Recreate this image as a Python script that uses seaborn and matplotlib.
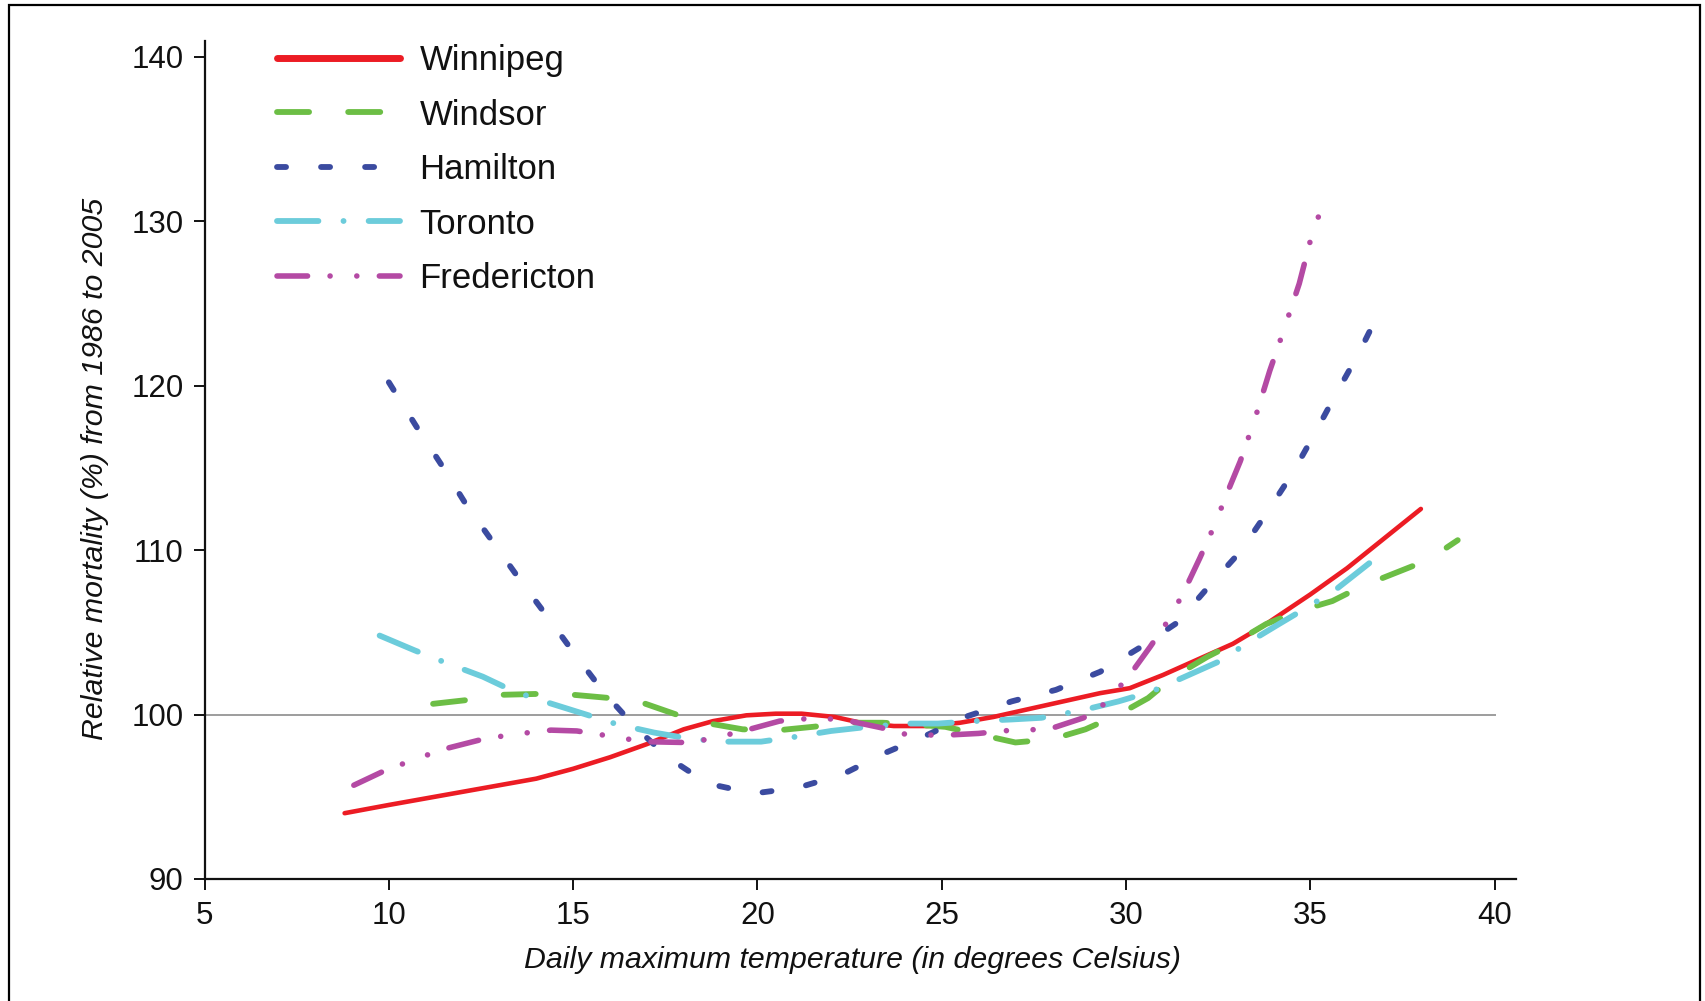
import numpy as np
import pandas as pd
import matplotlib
matplotlib.use("Agg")
import matplotlib.pyplot as plt
from matplotlib.patches import Rectangle
import seaborn as sns

# ---------------- data ----------------
cities = ["Winnipeg", "Windsor", "Hamilton", "Toronto", "Fredericton"]

winnipeg_x = [8.8, 10, 11.5, 13, 14, 15, 16, 17, 18, 18.8, 19.7, 20.5, 21.2, 22.1, 22.8,
              23.7, 24.6, 25.5, 26.4, 27.5, 28.5, 29.3, 30.1, 31, 32, 32.9, 33.8, 35, 36, 37, 38]
winnipeg_y = [94.0, 94.5, 95.1, 95.7, 96.1, 96.7, 97.4, 98.2, 99.1, 99.6, 99.95, 100.05, 100.05,
              99.85, 99.5, 99.3, 99.3, 99.5, 99.85, 100.4, 100.9, 101.3, 101.6, 102.4, 103.4,
              104.3, 105.5, 107.3, 108.9, 110.7, 112.5]

windsor_x = [11.2, 12.2, 13.1, 14, 15, 16, 16.9, 17.8, 18.7, 19.6, 20.6, 21.5, 22.5, 23.4, 24.2,
             25.1, 26.0, 27.0, 28.0, 28.9, 29.8, 30.6, 31.3, 32.2, 32.9, 33.8, 34.7, 35.6, 36.4,
             37.3, 38.2, 39.0]
windsor_y = [100.65, 100.9, 101.2, 101.25, 101.2, 101.0, 100.7, 100.0, 99.45, 99.1, 99.05, 99.25,
             99.5, 99.5, 99.4, 99.25, 98.8, 98.3, 98.5, 99.1, 100.0, 101.0, 102.3, 103.5, 104.3,
             105.5, 106.3, 106.9, 107.8, 108.6, 109.4, 110.6]

hamilton_x = [10.0, 10.75, 11.45, 12.1, 12.85, 13.6, 14.35, 15.1, 15.85, 16.7, 17.6, 18.65, 19.9,
              21.1, 22.3, 23.5, 24.6, 25.7, 26.9, 28.1, 29.3, 30.4, 31.4, 32.25, 33.1, 33.8, 34.5,
              35.1, 35.7, 36.3, 36.9]
hamilton_y = [120.2, 117.5, 115.1, 112.75, 110.4, 108.05, 105.8, 103.5, 101.3, 99.2, 97.35, 95.8,
              95.2, 95.55, 96.35, 97.7, 98.75, 99.9, 100.8, 101.5, 102.6, 104.1, 105.6, 107.8,
              109.9, 112.2, 114.6, 117.0, 119.5, 121.9, 124.6]

toronto_x = [9.75, 10.7, 11.6, 12.55, 13.4, 14.35, 15.35, 16.2, 17.2, 18.1, 19.0, 20.1, 21.05, 22.0,
             23.0, 24.1, 24.9, 25.9, 26.9, 27.7, 28.8, 29.8, 30.7, 31.6, 32.5, 33.3, 34.15, 35.05,
             35.75, 36.6]
toronto_y = [104.8, 103.9, 103.1, 102.3, 101.4, 100.7, 100.0, 99.4, 98.9, 98.55, 98.35, 98.35, 98.65,
             99.0, 99.25, 99.45, 99.45, 99.6, 99.7, 99.8, 100.25, 100.8, 101.4, 102.3, 103.2, 104.35,
             105.5, 106.7, 107.7, 109.2]

fredericton_x = [9.05, 9.9, 10.8, 11.5, 12.55, 13.4, 14.4, 15.1, 16.1, 16.9, 18.0, 18.7, 19.7, 20.6,
                 21.6, 22.4, 23.35, 24.1, 25.15, 26.0, 26.9, 27.9, 28.85, 29.45, 30.1, 30.65, 31.2,
                 31.6, 32.0, 32.4, 32.75, 33.1, 33.5, 33.9, 34.3, 34.7, 35.0, 35.3]
fredericton_y = [95.7, 96.6, 97.35, 97.9, 98.5, 98.8, 99.05, 99.0, 98.65, 98.35, 98.3, 98.5, 99.05,
                 99.6, 99.8, 99.65, 99.2, 98.75, 98.75, 98.85, 99.05, 99.1, 99.8, 100.7, 102.4,
                 104.1, 105.9, 107.6, 109.5, 111.5, 113.5, 115.4, 118.0, 120.9, 123.5, 126.2,
                 128.8, 130.8]

x_ticks = [5, 10, 15, 20, 25, 30, 35, 40]
y_ticks = [90, 100, 110, 120, 130, 140]
reference_level = 100
x_label = "Daily maximum temperature (in degrees Celsius)"
y_label = "Relative mortality (%) from 1986 to 2005"

# ---------------- styling ----------------
colors = {"Winnipeg": "#EC1C24", "Windsor": "#6CBE45", "Hamilton": "#3B4BA0",
          "Toronto": "#6CCCDB", "Fredericton": "#B44AA4"}
dashes = {"Winnipeg": "", "Windsor": (5.5, 6.7), "Hamilton": (1.55, 6.0),
          "Toronto": (7.1, 4.3, 0.01, 4.3), "Fredericton": (5.5, 4.05, 0.01, 4.8, 0.01, 4.05)}
widths = {"Winnipeg": 3.3, "Windsor": 4.2, "Hamilton": 4.2, "Toronto": 4.2, "Fredericton": 4.0}

frames = []
for name, xs, ys in [("Winnipeg", winnipeg_x, winnipeg_y), ("Windsor", windsor_x, windsor_y),
                     ("Hamilton", hamilton_x, hamilton_y), ("Toronto", toronto_x, toronto_y),
                     ("Fredericton", fredericton_x, fredericton_y)]:
    frames.append(pd.DataFrame({"temp": xs, "mort": ys, "city": name}))
df = pd.concat(frames, ignore_index=True)

sns.set_theme(style="ticks")
plt.rcParams["font.family"] = ["Liberation Sans", "DejaVu Sans"]

fig = plt.figure(figsize=(17.06, 10.01), dpi=100)
ax = fig.add_axes([0.1199, 0.1219, 0.7685, 0.8368])

sns.lineplot(data=df, x="temp", y="mort", hue="city", style="city",
             hue_order=cities, style_order=cities, palette=colors, dashes=dashes,
             sort=False, estimator=None, legend=False, ax=ax, lw=4.0,
             dash_capstyle="round", solid_capstyle="round")
city_lines = list(ax.lines)
for line, name in zip(city_lines, cities):
    line.set_linewidth(widths[name])
    line.set_dashes(dashes[name])

ax.hlines(reference_level, 5, 40.05, color="#8c8c8c", lw=1.2, zorder=0)

ax.set_xlim(5, 40.57)
ax.set_ylim(90, 140.93)
ax.set_xticks(x_ticks)
ax.set_yticks(y_ticks)
for s in ["top", "right"]:
    ax.spines[s].set_visible(False)
for s in ["left", "bottom"]:
    ax.spines[s].set_linewidth(1.6)
    ax.spines[s].set_color("#111111")
ax.tick_params(axis="both", direction="out", length=8, width=1.4, color="#111111",
               labelsize=22.5, labelcolor="#111111")
ax.tick_params(axis="y", pad=7)
ax.tick_params(axis="x", pad=8)

ax.set_xlabel(x_label, fontsize=21.8, style="italic", color="#111111")
ax.set_ylabel(y_label, fontsize=21.8, style="italic", color="#111111")
ax.xaxis.set_label_coords(0.494, -0.080)
ax.yaxis.set_label_coords(-0.073, 0.49)

leg = ax.legend(handles=city_lines, labels=cities, loc="upper left",
                bbox_to_anchor=(277 / 1706, 1 - 44 / 1001), bbox_transform=fig.transFigure,
                frameon=False, fontsize=25, handlelength=3.55, handletextpad=0.55,
                labelspacing=0.62, borderpad=0, borderaxespad=0)
for t in leg.get_texts():
    t.set_color("#111111")
leg.get_lines()[0].set_linewidth(5.0)

fig.patches.append(Rectangle((9 / 1706, -0.05), (1700 - 9) / 1706, 1 - 5 / 1001 + 0.05,
                             transform=fig.transFigure, fill=False, lw=1.6, ec="black"))

fig.savefig("out.png", dpi=100, facecolor="white")
